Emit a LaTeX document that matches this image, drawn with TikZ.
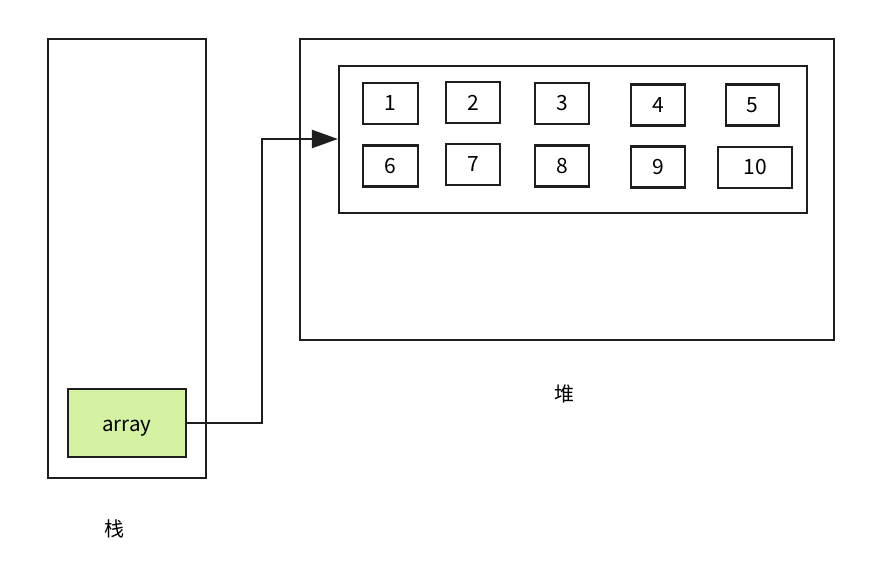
\documentclass[tikz,border=0pt]{standalone}
\usepackage{fontspec}
\setmainfont{Noto Sans CJK SC}
\usetikzlibrary{arrows.meta}
\definecolor{ln}{HTML}{1E1E1E}
\definecolor{grn}{HTML}{D5F1A2}
\begin{document}
\begin{tikzpicture}[x=1pt,y=-1pt,
  frame/.style={draw=ln,line width=2.2pt},
  cell/.style={draw=ln,line width=2.2pt,font=\fontsize{21}{24}\selectfont},
  lbl/.style={font=\fontsize{20}{22}\selectfont}]
\useasboundingbox[fill=white] (0,0) rectangle (883,571);
\draw[frame] (48,39) rectangle (206,478);
\draw[frame] (300,39) rectangle (834,340);
\node[frame,minimum width=468pt,minimum height=147pt,inner sep=0pt] (inner) at (573,139.5) {};
\node[cell,fill=grn,minimum width=118pt,minimum height=68pt,inner sep=0pt,font=\fontsize{20.5}{24}\selectfont,text height=21pt,text depth=4pt] (arr) at (127,423) {array};
% cells
\foreach \n/\x/\y/\w in {1/390.5/103.5/55, 2/473/102.5/54, 3/562/103.5/54, 4/658/105/54, 5/752.5/105/53,
  6/390.5/166/55, 7/473/164.5/54, 8/562/166/54, 9/658/167/54, 10/755/167.5/74}
  \node[cell,minimum width=\w pt,minimum height=41pt,inner sep=0pt] (c\n) at (\x,\y) {\n};
\coordinate (bend) at (262,139);
\draw[ln,line width=2.2pt,-{Triangle[length=26pt,width=18pt]}] (arr.east) -| (bend) -- (inner.west |- bend);
\node[lbl] (zhan) at (114,529) {栈};
\node[lbl] (dui) at (564,394) {堆};
\end{tikzpicture}
\end{document}
